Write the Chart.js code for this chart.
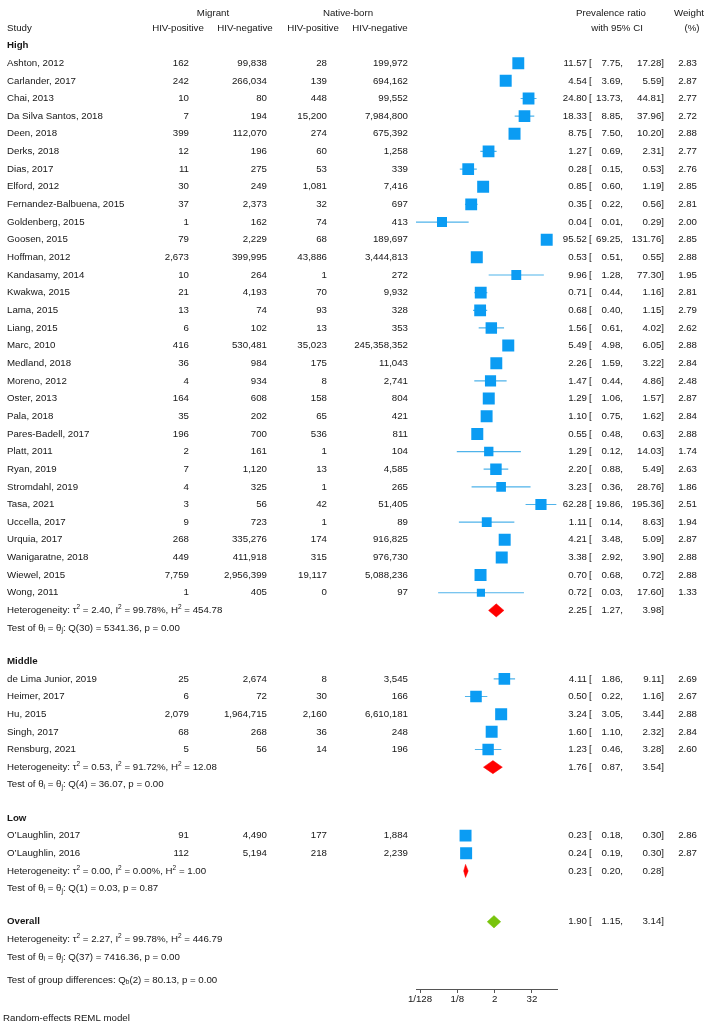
<!DOCTYPE html>
<html>
<head>
<meta charset="utf-8">
<script src="https://cdn.jsdelivr.net/npm/chart.js@4.4.1/dist/chart.umd.min.js"></script>
<style>
  body { margin: 0; background: #fff; }
  #wrap { width: 711px; height: 1024px; position: relative; }
</style>
</head>
<body>
<div id="wrap"><canvas id="forest"></canvas></div>
<script>
// ---- data ----
const groupNames = ["High", "Middle", "Low"];
const groupSizes = [31, 5, 2];

const studyNames = [
  "Ashton, 2012", "Carlander, 2017", "Chai, 2013", "Da Silva Santos, 2018", "Deen, 2018",
  "Derks, 2018", "Dias, 2017", "Elford, 2012", "Fernandez-Balbuena, 2015", "Goldenberg, 2015",
  "Goosen, 2015", "Hoffman, 2012", "Kandasamy, 2014", "Kwakwa, 2015", "Lama, 2015",
  "Liang, 2015", "Marc, 2010", "Medland, 2018", "Moreno, 2012", "Oster, 2013",
  "Pala, 2018", "Pares-Badell, 2017", "Platt, 2011", "Ryan, 2019", "Stromdahl, 2019",
  "Tasa, 2021", "Uccella, 2017", "Urquia, 2017", "Wanigaratne, 2018", "Wiewel, 2015",
  "Wong, 2011",
  "de Lima Junior, 2019", "Heimer, 2017", "Hu, 2015", "Singh, 2017", "Rensburg, 2021",
  "O\u2019Laughlin, 2017", "O\u2019Laughlin, 2016"
];
const migPos = [162, 242, 10, 7, 399, 12, 11, 30, 37, 1, 79, 2673, 10, 21, 13, 6, 416, 36, 4, 164,
  35, 196, 2, 7, 4, 3, 9, 268, 449, 7759, 1, 25, 6, 2079, 68, 5, 91, 112];
const migNeg = [99838, 266034, 80, 194, 112070, 196, 275, 249, 2373, 162, 2229, 399995, 264, 4193, 74,
  102, 530481, 984, 934, 608, 202, 700, 161, 1120, 325, 56, 723, 335276, 411918, 2956399, 405,
  2674, 72, 1964715, 268, 56, 4490, 5194];
const natPos = [28, 139, 448, 15200, 274, 60, 53, 1081, 32, 74, 68, 43886, 1, 70, 93, 13, 35023, 175,
  8, 158, 65, 536, 1, 13, 1, 42, 1, 174, 315, 19117, 0, 8, 30, 2160, 36, 14, 177, 218];
const natNeg = [199972, 694162, 99552, 7984800, 675392, 1258, 339, 7416, 697, 413, 189697, 3444813,
  272, 9932, 328, 353, 245358352, 11043, 2741, 804, 421, 811, 104, 4585, 265, 51405, 89, 916825,
  976730, 5088236, 97, 3545, 166, 6610181, 248, 196, 1884, 2239];
const ratio = [11.57, 4.54, 24.80, 18.33, 8.75, 1.27, 0.28, 0.85, 0.35, 0.04, 95.52, 0.53, 9.96, 0.71,
  0.68, 1.56, 5.49, 2.26, 1.47, 1.29, 1.10, 0.55, 1.29, 2.20, 3.23, 62.28, 1.11, 4.21, 3.38, 0.70,
  0.72, 4.11, 0.50, 3.24, 1.60, 1.23, 0.23, 0.24];
const ciLow = [7.75, 3.69, 13.73, 8.85, 7.50, 0.69, 0.15, 0.60, 0.22, 0.0056, 69.25, 0.51, 1.28, 0.44,
  0.40, 0.61, 4.98, 1.59, 0.44, 1.06, 0.75, 0.48, 0.12, 0.88, 0.36, 19.86, 0.14, 3.48, 2.92, 0.68,
  0.03, 1.86, 0.22, 3.05, 1.10, 0.46, 0.18, 0.19];
const ciHigh = [17.28, 5.59, 44.81, 37.96, 10.20, 2.31, 0.53, 1.19, 0.56, 0.29, 131.76, 0.55, 77.30,
  1.16, 1.15, 4.02, 6.05, 3.22, 4.86, 1.57, 1.62, 0.63, 14.03, 5.49, 28.76, 195.36, 8.63, 5.09, 3.90,
  0.72, 17.60, 9.11, 1.16, 3.44, 2.32, 3.28, 0.30, 0.30];
const weight = [2.83, 2.87, 2.77, 2.72, 2.88, 2.77, 2.76, 2.85, 2.81, 2.00, 2.85, 2.88, 1.95, 2.81,
  2.79, 2.62, 2.88, 2.84, 2.48, 2.87, 2.84, 2.88, 1.74, 2.63, 1.86, 2.51, 1.94, 2.87, 2.88, 2.88,
  1.33, 2.69, 2.67, 2.88, 2.84, 2.60, 2.86, 2.87];

const groupRatio = [2.25, 1.76, 0.23];
const groupLow = [1.27, 0.87, 0.20];
const groupHigh = [3.98, 3.54, 0.28];
const groupTau2 = [2.40, 0.53, 0.00];
const groupI2 = [99.78, 91.72, 0.00];
const groupH2 = [454.78, 12.08, 1.00];
const groupQdf = [30, 4, 1];
const groupQ = [5341.36, 36.07, 0.03];
const groupP = [0.00, 0.00, 0.87];

const overall = [1.90, 1.15, 3.14];          // ratio, low, high
const overallHet = [2.27, 99.78, 446.79];    // tau2, I2, H2
const overallTest = [37, 7416.36, 0.00];     // df, Q, p
const diffTest = [2, 80.13, 0.00];           // df, Qb, p

const xTicks = [1 / 128, 1 / 8, 2, 32];
const xTickLabels = ["1/128", "1/8", "2", "32"];

// ---- row layout ----
const GAP = 1.88;
const headRow = [], studyRow = [], sumRow = [], testRow = [];
let r = -1;
groupSizes.forEach((n, g) => {
  headRow.push(r); r += 1;
  for (let i = 0; i < n; i++) { studyRow.push(r); r += 1; }
  sumRow.push(r); r += 1;
  testRow.push(r); r += GAP;
});
const overallRow = r, overallHetRow = r + 1, overallTestRow = r + 2, diffRow = r + 3.3;

const FONT = '9.7px "Liberation Sans", Arial, sans-serif';
const BOLD = 'bold 9.7px "Liberation Sans", Arial, sans-serif';
const SMALL = '6.5px "Liberation Sans", Arial, sans-serif';
const INK = "#161616";
const BLUE = "#0b9cf3";
const WHISKER = "#4fb3ea";

const f2 = v => v.toFixed(2);
const comma = n => String(n).replace(/\B(?=(\d{3})+(?!\d))/g, ",");

// ---- datasets ----
const squares = ratio.map((v, i) => ({ x: v, y: studyRow[i] }));
const whiskers = [];
ratio.forEach((v, i) => {
  whiskers.push({ x: ciLow[i], y: studyRow[i] }, { x: ciHigh[i], y: studyRow[i] }, { x: null, y: null });
});
function diamond(es, lo, hi, row, h) {
  return [{ x: lo, y: row }, { x: es, y: row - h }, { x: hi, y: row }, { x: es, y: row + h }, { x: lo, y: row }];
}
const datasets = [
  {
    data: squares, pointStyle: "rect",
    pointRadius: weight.map(w => 12 * Math.sqrt(w / 2.88) / Math.SQRT2),
    backgroundColor: BLUE, borderWidth: 0, pointHoverRadius: 0
  },
  {
    data: whiskers, showLine: true, spanGaps: false, borderColor: WHISKER, borderWidth: 1.2,
    pointRadius: 0, fill: false
  }
];
groupRatio.forEach((v, g) => {
  datasets.push({
    data: diamond(v, groupLow[g], groupHigh[g], sumRow[g], 0.37), showLine: true, fill: "shape",
    backgroundColor: "#ff0000", borderColor: "#ff0000", borderWidth: 0.5, pointRadius: 0, tension: 0
  });
});
datasets.push({
  data: diamond(overall[0], overall[1], overall[2], overallRow, 0.35), showLine: true, fill: "shape",
  backgroundColor: "#78c40c", borderColor: "#78c40c", borderWidth: 0.5, pointRadius: 0, tension: 0
});

// ---- table text ----
function rich(ctx, parts, x, y) {
  parts.forEach(p => {
    if (typeof p === "string") {
      ctx.font = FONT; ctx.fillText(p, x, y); x += ctx.measureText(p).width;
    } else {
      ctx.font = SMALL; ctx.fillText(p.t, x, y + (p.sup ? -3 : 2.5)); x += ctx.measureText(p.t).width;
    }
  });
  ctx.font = FONT;
}
function hetLine(t, i, h) {
  return ["Heterogeneity: \u03c4", { t: "2", sup: 1 }, " = " + f2(t) + ", I", { t: "2", sup: 1 },
    " = " + f2(i) + "%, H", { t: "2", sup: 1 }, " = " + f2(h)];
}
function testLine(df, q, p) {
  return ["Test of \u03b8", { t: "i" }, " = \u03b8", { t: "j" }, ": Q(" + df + ") = " + f2(q) + ", p = " + f2(p)];
}
function ciText(ctx, y, es, lo, hi, w) {
  ctx.textAlign = "right"; ctx.fillText(f2(es), 587, y);
  ctx.textAlign = "left"; ctx.fillText("[", 589, y);
  ctx.textAlign = "right"; ctx.fillText(f2(lo) + ",", 623, y);
  ctx.fillText(f2(hi) + "]", 664, y);
  if (w !== undefined) ctx.fillText(f2(w), 697, y);
}

const tablePlugin = {
  id: "table",
  afterDraw(chart) {
    const ctx = chart.ctx, ys = chart.scales.y;
    const py = row => ys.getPixelForValue(row);
    ctx.save();
    ctx.fillStyle = INK;
    ctx.textBaseline = "middle";
    ctx.font = FONT;

    // header
    ctx.textAlign = "center";
    ctx.fillText("Migrant", 213, py(-2.8));
    ctx.fillText("Native-born", 348, py(-2.8));
    ctx.fillText("Prevalence ratio", 611, py(-2.8));
    ctx.fillText("Weight", 689, py(-2.8));
    ctx.fillText("HIV-positive", 178, py(-2));
    ctx.fillText("HIV-negative", 245, py(-2));
    ctx.fillText("HIV-positive", 313, py(-2));
    ctx.fillText("HIV-negative", 380, py(-2));
    ctx.fillText("with 95% CI", 617, py(-2));
    ctx.fillText("(%)", 692, py(-2));
    ctx.textAlign = "left";
    ctx.fillText("Study", 7, py(-2));

    let k = 0;
    groupSizes.forEach((n, g) => {
      ctx.textAlign = "left";
      ctx.font = BOLD;
      ctx.fillText(groupNames[g], 7, py(headRow[g]));
      ctx.font = FONT;
      for (let j = 0; j < n; j++, k++) {
        const y = py(studyRow[k]);
        ctx.textAlign = "left";
        ctx.fillText(studyNames[k], 7, y);
        ctx.textAlign = "right";
        ctx.fillText(comma(migPos[k]), 189, y);
        ctx.fillText(comma(migNeg[k]), 267, y);
        ctx.fillText(comma(natPos[k]), 327, y);
        ctx.fillText(comma(natNeg[k]), 408, y);
        ciText(ctx, y, ratio[k], ciLow[k], ciHigh[k], weight[k]);
      }
      ctx.textAlign = "left";
      rich(ctx, hetLine(groupTau2[g], groupI2[g], groupH2[g]), 7, py(sumRow[g]));
      ciText(ctx, py(sumRow[g]), groupRatio[g], groupLow[g], groupHigh[g]);
      ctx.textAlign = "left";
      rich(ctx, testLine(groupQdf[g], groupQ[g], groupP[g]), 7, py(testRow[g]));
    });

    ctx.textAlign = "left";
    ctx.font = BOLD;
    ctx.fillText("Overall", 7, py(overallRow));
    ctx.font = FONT;
    ciText(ctx, py(overallRow), overall[0], overall[1], overall[2]);
    ctx.textAlign = "left";
    rich(ctx, hetLine(overallHet[0], overallHet[1], overallHet[2]), 7, py(overallHetRow));
    rich(ctx, testLine(overallTest[0], overallTest[1], overallTest[2]), 7, py(overallTestRow));
    rich(ctx, ["Test of group differences: Q", { t: "b" },
      "(" + diffTest[0] + ") = " + f2(diffTest[1]) + ", p = " + f2(diffTest[2])], 7, py(diffRow));

    ctx.fillText("Random-effects REML model", 3, chart.height - 6);
    ctx.restore();
  }
};

new Chart(document.getElementById("forest"), {
  type: "scatter",
  data: { datasets },
  options: {
    responsive: true,
    maintainAspectRatio: false,
    animation: false,
    events: [],
    layout: { padding: { left: 416, right: 154, top: 1, bottom: 0 } },
    plugins: { legend: { display: false }, tooltip: { enabled: false } },
    scales: {
      x: {
        type: "logarithmic",
        min: Math.pow(2, -7.43),
        max: Math.pow(2, 7.68),
        afterBuildTicks: s => { s.ticks = xTicks.map(v => ({ value: v })); },
        afterFit: s => { s.height = 35; },
        ticks: {
          callback: (v, i) => xTickLabels[i],
          autoSkip: false, maxRotation: 0, padding: 1,
          color: INK, font: { family: '"Liberation Sans", Arial, sans-serif', size: 9.7 }
        },
        grid: { drawOnChartArea: false, tickLength: 4, color: "#555" },
        border: { color: "#555", width: 1 }
      },
      y: { type: "linear", reverse: true, min: -3.1, max: 52.45, display: false }
    }
  },
  plugins: [tablePlugin]
});
</script>
</body>
</html>
